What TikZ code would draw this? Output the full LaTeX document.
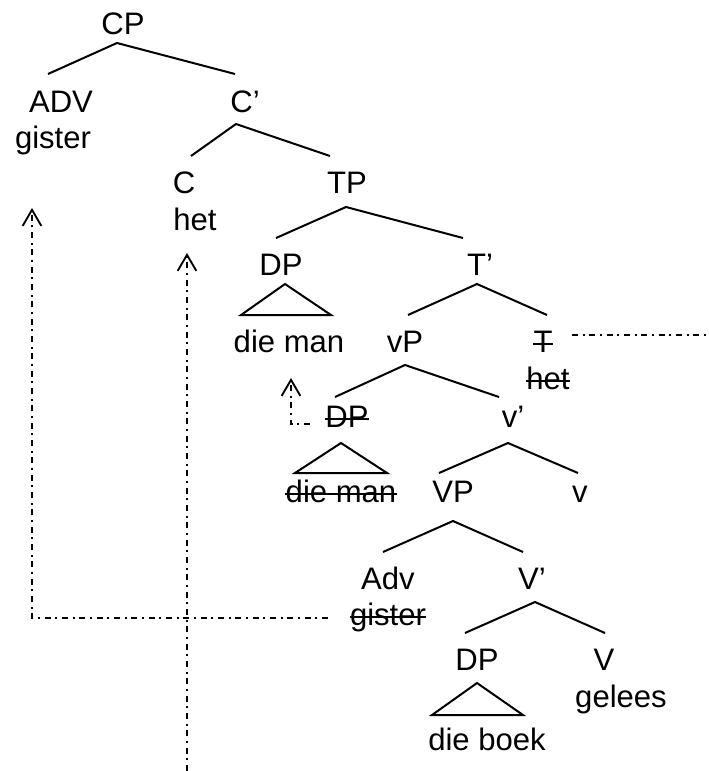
\documentclass[tikz,border=0pt]{standalone}
\usepackage{fontspec}
\setmainfont{Liberation Sans}
\usetikzlibrary{arrows.meta}
\begin{document}
\begin{tikzpicture}[x=0.75pt,y=-0.75pt,
  lbl/.style={inner sep=0pt, anchor=base, font=\fontsize{23.3}{27}\selectfont},
  branch/.style={line width=1.5pt},
  strike/.style={line width=1.3pt},
  move/.style={line width=1.4pt, dash pattern=on 4.5pt off 3.5pt on 1.5pt off 3.5pt},
  tip/.style={-{Straight Barb[length=12pt,width=14pt,line width=1.4pt]}}
]
\useasboundingbox (0,0) rectangle (709,771);

% labels
\node[lbl] (CP) at (123,34) {CP};
\node[lbl] (ADV) at (61,112) {ADV};
\node[lbl] (gister1) at (53,148) {gister};
\node[lbl] (Cbar) at (245,112) {C’};
\node[lbl] (C) at (184,193) {C};
\node[lbl] (het1) at (195,230) {het};
\node[lbl] (TP) at (347,193) {TP};
\node[lbl] (DP1) at (281,275) {DP};
\node[lbl] (dieman1) at (289,352) {die man};
\node[lbl] (Tbar) at (480,275) {T’};
\node[lbl] (vP) at (405,352) {vP};
\node[lbl] (T) at (543,352) {T};
\node[lbl] (het2) at (548,389) {het};
\node[lbl] (DP2) at (347,427) {DP};
\node[lbl] (vbar) at (513,427) {v’};
\node[lbl] (dieman2) at (341,502) {die man};
\node[lbl] (VP) at (453,502) {VP};
\node[lbl] (v) at (580,502) {v};
\node[lbl] (Adv) at (388,589) {Adv};
\node[lbl] (gister2) at (388,625) {gister};
\node[lbl] (Vbar) at (532,589) {V’};
\node[lbl] (DP3) at (477,670) {DP};
\node[lbl] (V) at (604,670) {V};
\node[lbl] (gelees) at (621,707) {gelees};
\node[lbl] (dieboek) at (487,750) {die boek};

% branch points
\coordinate (cpA) at (117,43);  \coordinate (cpL) at (48,74);  \coordinate (cpR) at (235,74);
\coordinate (cbA) at (236,124); \coordinate (cbL) at (191,156); \coordinate (cbR) at (330,156);
\coordinate (tpA) at (346,207); \coordinate (tpL) at (276,238); \coordinate (tpR) at (463,238);
\coordinate (d1A) at (285,284); \coordinate (d1L) at (241,315); \coordinate (d1R) at (331,315);
\coordinate (tbA) at (477,284); \coordinate (tbL) at (408,315); \coordinate (tbR) at (547,315);
\coordinate (vpA) at (405,365); \coordinate (vpL) at (335,397); \coordinate (vpR) at (499,397);
\coordinate (d2A) at (341,443); \coordinate (d2L) at (295,473); \coordinate (d2R) at (387,473);
\coordinate (vbA) at (508,443); \coordinate (vbL) at (439,473); \coordinate (vbR) at (578,473);
\coordinate (VPA) at (453,521); \coordinate (VPL) at (383,552); \coordinate (VPR) at (523,552);
\coordinate (VbA) at (535,602); \coordinate (VbL) at (465,633); \coordinate (VbR) at (605,633);
\coordinate (d3A) at (477,683); \coordinate (d3L) at (432,715); \coordinate (d3R) at (523,715);

\draw[branch] (cpL) -- (cpA) -- (cpR);
\draw[branch] (cbL) -- (cbA) -- (cbR);
\draw[branch] (tpL) -- (tpA) -- (tpR);
\draw[branch] (tbL) -- (tbA) -- (tbR);
\draw[branch] (vpL) -- (vpA) -- (vpR);
\draw[branch] (vbL) -- (vbA) -- (vbR);
\draw[branch] (VPL) -- (VPA) -- (VPR);
\draw[branch] (VbL) -- (VbA) -- (VbR);
\draw[branch] (d1L) -- (d1A) -- (d1R) -- cycle;
\draw[branch] (d2L) -- (d2A) -- (d2R) -- cycle;
\draw[branch] (d3L) -- (d3A) -- (d3R) -- cycle;

% strike-throughs
\foreach \n in {T,het2,DP2,dieman2,gister2}{
  \draw[strike] ([yshift=6.2pt]\n.base west) -- ([yshift=6.2pt]\n.base east);
}

% movement lines
\coordinate (tS) at (572,335); \coordinate (tE) at (709,335);
\draw[move] (tS) -- (tE);

\coordinate (gS) at (328,618); \coordinate (gK) at (32,618); \coordinate (gT) at (32,208);
\draw[move,tip] (gS) -- (gK) -- (gT);

\coordinate (hS) at (187,771); \coordinate (hT) at (187,253);
\draw[move,tip] (hS) -- (hT);

\coordinate (dS) at (310,424); \coordinate (dK) at (291,424); \coordinate (dT) at (291,378);
\draw[move,tip] (dS) -- (dK) -- (dT);
\end{tikzpicture}
\end{document}
